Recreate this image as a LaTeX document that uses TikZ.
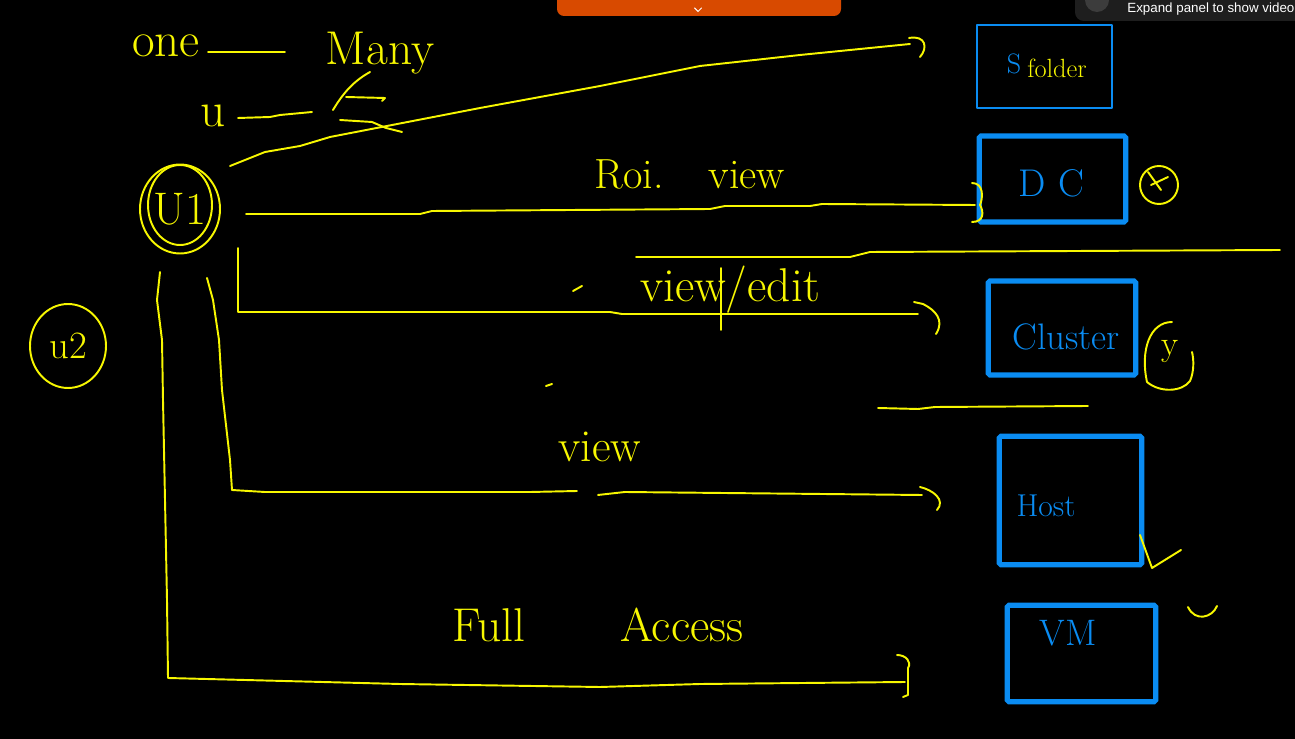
\documentclass[tikz,border=0pt]{standalone}
\usepackage{fontspec}
\setmainfont{Latin Modern Roman}
\newfontfamily\uifont{Liberation Sans}
\usetikzlibrary{shapes.geometric,calc}
\definecolor{penyellow}{HTML}{F7F700}
\definecolor{boxblue}{HTML}{0A8CF2}
\definecolor{barorange}{HTML}{D84A00}
\definecolor{panelgray}{HTML}{1E1E1E}
\definecolor{icongray}{HTML}{3C3C3C}
\begin{document}
\begin{tikzpicture}[x=0.02cm,y=-0.02cm,
  pen/.style={draw=penyellow, line width=1.1pt, line cap=round, line join=round},
  thinblue/.style={draw=boxblue, line width=1.1pt, line cap=round, line join=round},
  boxstyle/.style={draw=boxblue, line width=2.9pt, rectangle, rounded corners=1pt, inner sep=0pt},
  hand/.style={text=penyellow, inner sep=0pt},
  bluetext/.style={text=boxblue, inner sep=0pt}]
% canvas
\useasboundingbox (0,0) rectangle (1295,739);
\clip (0,0) rectangle (1295,739);
\fill[black] (0,0) rectangle (1295,739);

% top orange bar
\fill[barorange, rounded corners=4pt] (557,-20) rectangle (841,16);
\draw[white, line width=0.6pt, line cap=round] (694.5,8) -- (698,11.5) -- (701.5,8);

% expand panel
\fill[panelgray, rounded corners=5pt] (1075,-20) rectangle (1320,21);
\fill[icongray] (1097,0) circle [radius=0.24cm];
\node[anchor=base west, text=white, inner sep=0pt, font=\uifont\fontsize{7.6}{8}\selectfont] (panel) at (1127,13) {Expand panel to show video};

% one -- many
\node[hand, font=\fontsize{28}{30}\selectfont] (one) at (166,46) {one};
\node[hand, font=\fontsize{27}{30}\selectfont] (many) at (380,53) {Many};
\draw[pen] (one.east) ++(8,6) coordinate (onee) -- (285,52) coordinate (manyw);
\node[hand, font=\fontsize{28}{30}\selectfont] (u) at (213,116) {u};
\coordinate (ua) at (238,118);
\coordinate (ub) at (312,112);
\draw[pen] (ua) -- (270,117) -- (280,115) -- (ub);
\draw[pen] (333,110) .. controls (342,95) and (352,82) .. (370,72);
\draw[pen] (346,97) -- (385,98) -- (382,101);
\draw[pen] (340,120) -- (372,122) -- (386,128) -- (402,132);

% U1 node
\node[pen, ellipse, minimum width=1.6cm, minimum height=1.78cm, hand, font=\fontsize{26}{28}\selectfont] (u1) at (180,209) {U1};
\draw[pen] ($(u1)+(0,-4)$) ellipse [x radius=0.64cm, y radius=0.8cm];

% U2 node
\node[pen, ellipse, minimum width=1.52cm, minimum height=1.68cm, hand, font=\fontsize{22}{24}\selectfont] (u2) at (68,346) {u2};

% boxes
\node[thinblue, rectangle, minimum width=2.7cm, minimum height=1.66cm] (folder) at (1044.5,66.5) {};
\node[text=boxblue, inner sep=0pt, font=\fontsize{16}{18}\selectfont] (fs) at (1014,64) {S};
\node[hand, font=\fontsize{15}{17}\selectfont] (fl) at (1057,68) {folder};
\node[boxstyle, minimum width=2.93cm, minimum height=1.72cm] (dc) at (1052.5,179) {};
\node[bluetext, font=\fontsize{22}{24}\selectfont] (dct) at (1051,183) {D\hspace{0.25cm}C};
\node[boxstyle, minimum width=2.95cm, minimum height=1.88cm] (cluster) at (1062,328) {};
\node[bluetext, font=\fontsize{21}{24}\selectfont] (clt) at (1066,337) {Cluster};
\node[boxstyle, minimum width=2.85cm, minimum height=2.57cm] (host) at (1070.5,500.5) {};
\node[bluetext, font=\fontsize{18}{20}\selectfont] (hot) at (1046,506) {Host};
\node[boxstyle, minimum width=2.97cm, minimum height=1.93cm] (vm) at (1081.5,653.5) {};
\node[bluetext, font=\fontsize{21}{24}\selectfont] (vmt) at (1068,633) {VM};

% marks beside boxes
\node[pen, circle, minimum size=0.76cm] (xc) at (1159,185) {};
\draw[pen] (1148,172) -- (1161,190);
\draw[pen] (1151,185) -- (1168,177);
\node[hand, font=\fontsize{20}{22}\selectfont] (yy) at (1170,352) {y};
\draw[pen] (1172,322) .. controls (1150,322) and (1140,350) .. (1147,382) .. controls (1160,393) and (1182,392) .. (1190,381) .. controls (1194,372) and (1194,360) .. (1192,352);
\draw[pen] (1140,535) -- (1152,568) -- (1181,550);
\draw[pen] (1188,607) .. controls (1195,622) and (1212,618) .. (1217,606);

% connector to folder (top)
\coordinate (t0) at (230,166);
\coordinate (t1) at (910,44);
\draw[pen] (t0) -- (265,152) -- (300,146) -- (330,137) -- (480,108) -- (600,86) -- (700,66) -- (800,55) -- (880,47) -- (t1);
\draw[pen] (909,38) .. controls (926,35) and (928,48) .. (920,57);

% Roi. view -> DC
\coordinate (r0) at (246,214);
\coordinate (r1) at (975,205);
\draw[pen] (r0) -- (420,214) -- (432,211) -- (710,209) -- (725,206) -- (810,206) -- (822,204) -- (r1);
\draw[pen] (972,183) .. controls (984,183) and (983,198) .. (980,205) .. controls (984,212) and (984,222) .. (972,222);
\node[hand, font=\fontsize{24}{26}\selectfont] (roi) at (690,174) {Roi.\hspace{0.9cm}view};

% separator lines
\coordinate (s0) at (636,257);
\coordinate (s1) at (1280,250);
\draw[pen] (s0) -- (850,257) -- (870,252) -- (s1);
\coordinate (s2) at (878,408);
\coordinate (s3) at (1088,406);
\draw[pen] (s2) -- (918,409) -- (935,407) -- (s3);
\draw[pen] (573,291) -- (582,286);
\draw[pen] (546,386) -- (552,384);

% view/edit -> Cluster
\coordinate (e0) at (238,248);
\coordinate (e1) at (918,314);
\draw[pen] (e0) -- (238,312) -- (610,312) -- (622,314) -- (e1);
\draw[pen] (914,302) -- (923,304) .. controls (935,310) and (945,320) .. (936,334);
\node[hand, font=\fontsize{27}{30}\selectfont] (ve) at (730,290) {view/edit};
\draw[pen] (721,268) -- (721,330);

% view -> Host
\coordinate (v0) at (207,278);
\coordinate (v1) at (577,491);
\coordinate (v2) at (598,495);
\coordinate (v3) at (922,495);
\draw[pen] (v0) -- (213,300) -- (219,340) -- (222,390) -- (226,425) -- (230,460) -- (232,490) -- (265,492) -- (530,492) -- (v1);
\draw[pen] (v2) -- (625,492) -- (v3);
\draw[pen] (920,487) .. controls (933,490) and (946,500) .. (937,510);
\node[hand, font=\fontsize{26}{28}\selectfont] (vw) at (600,447) {view};

% Full Access -> VM
\coordinate (f0) at (160,272);
\coordinate (f1) at (905,682);
\draw[pen] (f0) -- (157,300) -- (162,340) -- (163,400) -- (165,500) -- (167,600) -- (168,678) -- (400,684) -- (600,687) -- (700,684) -- (f1);
\draw[pen] (897,655) .. controls (906,655) and (912,662) .. (908,668) -- (908,695) -- (903,697);
\node[hand, font=\fontsize{27}{30}\selectfont] (fa) at (598,625) {Full\hspace{1.9cm}Access};
\end{tikzpicture}
\end{document}
